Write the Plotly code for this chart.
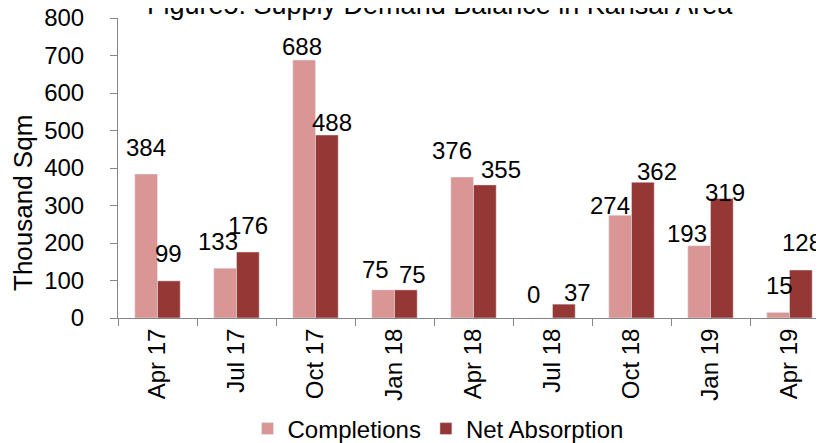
import plotly.graph_objects as go

categories = ["Apr 17", "Jul 17", "Oct 17", "Jan 18", "Apr 18", "Jul 18", "Oct 18", "Jan 19", "Apr 19"]
completions = [384, 133, 688, 75, 376, 0, 274, 193, 15]
net_absorption = [99, 176, 488, 75, 355, 37, 362, 319, 128]
y_ticks = [0, 100, 200, 300, 400, 500, 600, 700, 800]

# label nudges in pixels (dx, dy above bar top), mimicking manual label placement
comp_label_offsets = [(0, 29), (-7, 29), (-2, 16), (-8, 22), (-10, 29), (-8, 26), (-10, 12), (-12, 14), (1, 29)]
net_label_offsets = [(0, 29), (0, 29), (5, 15), (7, 17), (16, 17), (14, 14), (14, 13), (3, 8), (1, 30)]

FONT = "Liberation Sans, Arial, sans-serif"
C_COMP = "#D99694"
C_NET = "#953735"
AXIS_C = "#868686"
FS = 24

fig = go.Figure()
fig.add_trace(go.Bar(name="Completions", x=categories, y=completions, marker_color=C_COMP))
fig.add_trace(go.Bar(name="Net Absorption", x=categories, y=net_absorption, marker_color=C_NET))

half = 11.4
annotations = []
for vals, offs, side in ((completions, comp_label_offsets, -1), (net_absorption, net_label_offsets, 1)):
    for c, v, (dx, dy) in zip(categories, vals, offs):
        annotations.append(dict(
            x=c, y=v, xref="x", yref="y", text=str(v), showarrow=False,
            xshift=side * half + dx, yshift=dy - 2, xanchor="center", yanchor="middle",
            font=dict(family=FONT, size=FS, color="#000000")))

# plot area: x 110..821, y 10..310 within the figure (page body adds an 8px offset)
annotations.append(dict(
    text="Thousand Sqm", xref="paper", yref="paper", x=(15 - 110) / 711, y=(310 - 195) / 300,
    showarrow=False, textangle=-90, xanchor="center", yanchor="middle",
    font=dict(family=FONT, size=26, color="#000000")))
annotations.append(dict(
    text="Figure5: Supply Demand Balance in Kansai Area", xref="paper", yref="paper",
    x=(432 - 110) / 711, y=(310 + 3) / 300, showarrow=False,
    xanchor="center", yanchor="middle",
    font=dict(family=FONT, size=27, color="#000000")))

fig.update_layout(
    width=824, height=443,
    margin=dict(l=110, r=3, t=10, b=133, autoexpand=False),
    paper_bgcolor="white", plot_bgcolor="white",
    barmode="group", bargap=0.425, bargroupgap=0,
    font=dict(family=FONT, size=FS, color="#000000"),
    showlegend=True,
    legend=dict(orientation="h", xref="paper", yref="paper",
                x=(430 - 110) / 711, xanchor="center", y=(310 - 421) / 300, yanchor="middle",
                font=dict(family=FONT, size=FS, color="#000000"),
                bgcolor="rgba(0,0,0,0)", itemclick=False),
    annotations=annotations,
    xaxis=dict(type="category", range=[-0.5, 8.5], showline=True, linecolor=AXIS_C,
               linewidth=1, ticks="outside", tickson="boundaries", ticklen=7,
               tickcolor=AXIS_C, tickangle=-90, showgrid=False, zeroline=False,
               automargin=False, ticklabeloverflow="allow",
               tickfont=dict(family=FONT, size=FS, color="#000000")),
    yaxis=dict(range=[0, 800], tickvals=y_ticks, showline=True, linecolor=AXIS_C,
               linewidth=1, ticks="outside", ticklen=7, tickcolor=AXIS_C,
               showgrid=False, zeroline=False, ticklabelstandoff=21, automargin=False,
               ticklabeloverflow="allow",
               tickfont=dict(family=FONT, size=FS, color="#000000")),
)

fig.write_html("out.html")
